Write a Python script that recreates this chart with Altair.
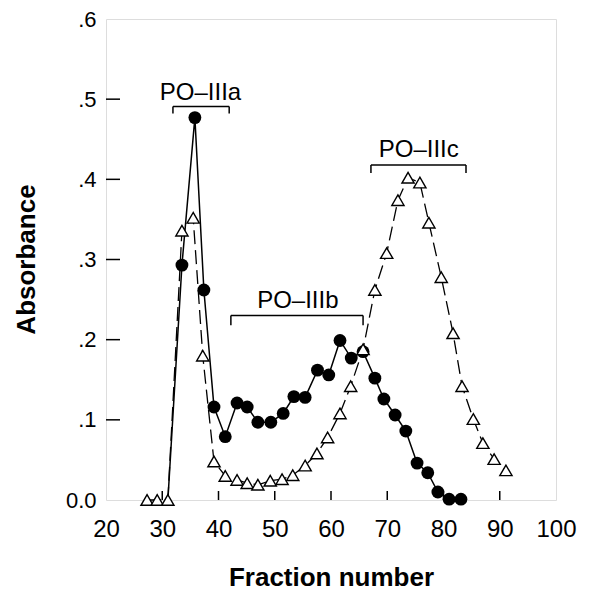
import altair as alt
import pandas as pd

# ---- data ----
circ_frac = [31.0, 33.5, 35.8, 37.4, 39.2, 41.2, 43.3, 45.1, 47.0, 49.3, 51.5, 53.4, 55.4, 57.6,
             59.6, 61.6, 63.6, 65.7, 67.8, 69.4, 71.4, 73.3, 75.3, 77.2, 79.0, 81.0, 83.1]
circ_abs = [0.0, 0.293, 0.477, 0.262, 0.116, 0.079, 0.121, 0.116, 0.097, 0.097, 0.108, 0.129, 0.128, 0.162,
            0.156, 0.199, 0.177, 0.185, 0.152, 0.126, 0.106, 0.086, 0.046, 0.034, 0.010, 0.001, 0.001]

tri_frac = [27.3, 29.1, 31.0, 33.5, 35.5, 37.2, 39.2, 41.2, 43.3, 45.1, 47.0, 49.2, 51.3, 53.2, 55.4,
            57.5, 59.4, 61.6, 63.5, 65.7, 67.8, 69.9, 71.9, 73.7, 75.8, 77.4, 79.6, 81.7, 83.3, 85.3,
            87.0, 89.0, 91.1]
tri_abs = [0.0, 0.0, 0.0, 0.336, 0.352, 0.180, 0.048, 0.030, 0.025, 0.021, 0.019, 0.024, 0.026, 0.031, 0.043,
           0.058, 0.078, 0.108, 0.142, 0.188, 0.262, 0.308, 0.374, 0.402, 0.396, 0.346, 0.278, 0.208, 0.142, 0.101,
           0.071, 0.051, 0.037]

bracket_names = ["PO\u2013IIIa", "PO\u2013IIIb", "PO\u2013IIIc"]
bracket_left = [31.9, 42.2, 67.1]
bracket_right = [41.9, 65.7, 84.0]
bracket_top = [0.491, 0.230, 0.418]
bracket_bottom = [0.482, 0.218, 0.408]
label_x = [36.8, 54.1, 75.6]
label_y = [0.499, 0.239, 0.428]

x_ticks = [20, 30, 40, 50, 60, 70, 80, 90, 100]
x_inner_ticks = [30, 40, 50, 60, 70, 80, 90]
y_ticks = [0.0, 0.1, 0.2, 0.3, 0.4, 0.5, 0.6]
y_inner_ticks = [0.1, 0.2, 0.3, 0.4, 0.5]

# ---- tables ----
circ_df = pd.DataFrame({"frac": circ_frac, "abs": circ_abs})
tri_df = pd.DataFrame({"frac": tri_frac, "abs": tri_abs})
br_df = pd.DataFrame({"name": bracket_names, "left": bracket_left, "right": bracket_right,
                      "top": bracket_top, "bottom": bracket_bottom, "lx": label_x, "ly": label_y})
ends_df = pd.DataFrame({"frac": bracket_left + bracket_right,
                        "top": bracket_top + bracket_top,
                        "bottom": bracket_bottom + bracket_bottom})
xt_df = pd.DataFrame({"frac": x_inner_ticks})
yt_df = pd.DataFrame({"abs": y_inner_ticks})

FONT = "Liberation Sans"
W, H = 450, 481

xscale = alt.Scale(domain=[20, 100], nice=False, zero=False)
yscale = alt.Scale(domain=[0, 0.6], nice=False, zero=False)

x_axis = alt.Axis(values=x_ticks, title="Fraction number", ticks=False, tickSize=0, domain=False, grid=False,
                  labelFont=FONT, labelFontSize=24, labelPadding=17, labelColor="black",
                  labelFlush=False, labelOverlap=False,
                  titleFont=FONT, titleFontSize=26, titleFontWeight="bold", titleColor="black",
                  titleX=225, titleY=85, titleBaseline="alphabetic", titleAlign="center")
y_axis = alt.Axis(values=y_ticks, title="Absorbance", ticks=False, tickSize=0, domain=False, grid=False,
                  labelExpr="datum.value == 0 ? '0.0' : '.' + round(datum.value * 10)",
                  labelFont=FONT, labelFontSize=22, labelPadding=10, labelColor="black",
                  labelFlush=False, labelOverlap=False,
                  titleFont=FONT, titleFontSize=26, titleFontWeight="bold", titleColor="black",
                  titleX=-72, titleY=240, titleBaseline="alphabetic", titleAlign="center", titleAngle=-90)

X = alt.X("frac:Q", scale=xscale, axis=x_axis)
Y = alt.Y("abs:Q", scale=yscale, axis=y_axis)

tri_line = alt.Chart(tri_df).mark_line(color="black", strokeWidth=1.3, strokeDash=[14, 6]).encode(
    x=X, y=Y, order="frac:Q")
circ_line = alt.Chart(circ_df).mark_line(color="black", strokeWidth=1.5).encode(
    x=X, y=Y, order="frac:Q")
circ_pts = alt.Chart(circ_df).transform_filter("datum.abs > 0 || datum.frac > 32").mark_point(
    shape="circle", filled=True, color="black", size=165, opacity=1).encode(x=X, y=Y)
tri_pts = alt.Chart(tri_df).mark_point(
    shape="triangle-up", filled=True, fill="white", stroke="black", strokeWidth=1.4, size=150, opacity=1
).encode(x=X, y=Y)

br_h = alt.Chart(br_df).mark_rule(color="black", strokeWidth=1.5).encode(
    x=alt.X("left:Q", scale=xscale, axis=x_axis), x2="right:Q",
    y=alt.Y("top:Q", scale=yscale, axis=y_axis))
br_v = alt.Chart(ends_df).mark_rule(color="black", strokeWidth=1.5).encode(
    x=X, y=alt.Y("top:Q", scale=yscale, axis=y_axis), y2="bottom:Q")
br_text = alt.Chart(br_df).mark_text(font=FONT, fontSize=24, color="black", baseline="alphabetic",
                                     align="center").encode(
    x=alt.X("lx:Q", scale=xscale, axis=x_axis), y=alt.Y("ly:Q", scale=yscale, axis=y_axis), text="name:N")

x_tick_marks = alt.Chart(xt_df).mark_rule(color="black", strokeWidth=1.5).encode(
    x=X, y=alt.value(H), y2=alt.value(H - 9))
y_tick_marks = alt.Chart(yt_df).mark_rule(color="black", strokeWidth=1.5).encode(
    y=Y, x=alt.value(0), x2=alt.value(14))

chart = alt.layer(
    x_tick_marks, y_tick_marks, br_h, br_v, br_text, tri_line, circ_line, circ_pts, tri_pts
).properties(
    width=W, height=H, autosize="none",
    padding={"left": 98, "top": 11, "right": 24, "bottom": 90},
).configure_view(stroke="black", strokeWidth=1.6).configure(background="white")

chart.save("out.html", embed_options={"renderer": "svg", "actions": False})
